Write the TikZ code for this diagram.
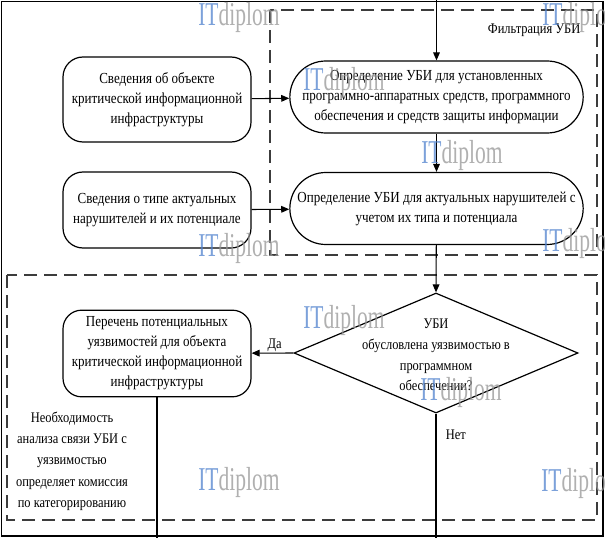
\documentclass[tikz,border=0pt]{standalone}
\usepackage{fontspec}
\setmainfont{Liberation Serif}[FakeStretch=0.85]
\usetikzlibrary{arrows.meta,shapes.geometric}
\definecolor{itblu}{RGB}{80,130,205}
\definecolor{itgrigio}{RGB}{150,150,150}
\definecolor{tratteggio}{RGB}{60,60,60}
\newcommand{\marchio}{\scalebox{0.76}[1]{\fontsize{25pt}{25pt}\selectfont\color{itblu}IT\color{itgrigio}diplom}}
\tikzset{
  blocco/.style={draw, line width=0.9pt, rounded corners=15pt, align=center, inner sep=2pt,
    minimum width=141pt, font=\fontsize{11.5pt}{15pt}\selectfont},
  ovale/.style={draw, line width=0.9pt, rounded corners=27pt, align=center, inner sep=2pt,
    minimum width=220pt, minimum height=54pt, font=\fontsize{11.5pt}{15pt}\selectfont},
  testo/.style={align=center, inner sep=1pt, font=\fontsize{11pt}{16pt}\selectfont},
  freccia/.style={->, line width=0.8pt},
  linea/.style={line width=0.8pt},
  zona/.style={draw=tratteggio, line width=1.1pt, dash pattern=on 10pt off 5pt},
}
\begin{document}
\begin{tikzpicture}[x=0.75pt, y=-0.75pt, >={Triangle[length=6pt, width=5pt]}]
    \useasboundingbox (0,0) rectangle (605,538);
    \draw[line width=1.2pt] (1.5,1.5) rectangle (603,536); % cornice
    % zone tratteggiate
    \draw[zona] (270,10) rectangle (597,255);
    \draw[zona] (7,275) rectangle (597,520);
    \node[testo, anchor=east] (filtro) at (582,30) {Фильтрация УБИ};
    % blocchi
    \node[blocco, minimum height=63.75pt] (sogg) at (157,99.5) {Сведения об объекте\\критической информационной\\инфраструктуры};
    \node[blocco, minimum height=57pt] (viol) at (157,210) {Сведения о типе актуальных\\нарушителей и их потенциале};
    \node[ovale] (ubi1) at (436.5,97) {Определение УБИ для установленных\\программно-аппаратных средств, программного\\обеспечения и средств защиты информации};
    \node[ovale] (ubi2) at (436.5,208.5) {Определение УБИ для актуальных нарушителей с\\учетом их типа и потенциала};
    \node[diamond, draw, line width=0.9pt, inner sep=0pt, minimum width=213pt, minimum height=90pt] (cond) at (436,353) {};
    \node[testo, font=\fontsize{11pt}{15.5pt}\selectfont] (condtxt) at (436,355) {УБИ\\обусловлена уязвимостью в\\программном\\обеспечении?};
    \node[blocco, minimum height=65pt, rounded corners=14pt] (vuln) at (157,353.5) {Перечень потенциальных\\уязвимостей для объекта\\критической информационной\\инфраструктуры};
    \node[testo] (nota) at (72,461) {Необходимость\\анализа связи УБИ с\\уязвимостью\\определяет комиссия\\по категорированию};
    % collegamenti
    \coordinate (ingresso) at (436.5,0);
    \coordinate (uscitaA) at (157,538);
    \coordinate (uscitaB) at (436,538);
    \draw[freccia] (ingresso) -- (ubi1);
    \draw[freccia] (sogg) -- (ubi1);
    \draw[freccia] (viol) -- (ubi2);
    \draw[freccia] (ubi1) -- (ubi2);
    \draw[freccia] (ubi2) -- (cond.north);
    \draw[freccia] (cond.west) -- (vuln) node[pos=0.45, above, testo] (si) {Да};
    \draw[linea] (vuln) -- (uscitaA);
    \draw[linea] (cond.south) -- (uscitaB) node[pos=0.17, right=6pt, testo] (no) {Нет};
    % marchi
    \foreach \x/\y in {198/17, 542/17, 303/82, 421/155, 198/248, 542/243, 303/320, 420/392, 198/482, 541/483} {
        \node[anchor=west, inner sep=0pt, opacity=0.75] at (\x,\y) {\marchio};
    }
\end{tikzpicture}
\end{document}
